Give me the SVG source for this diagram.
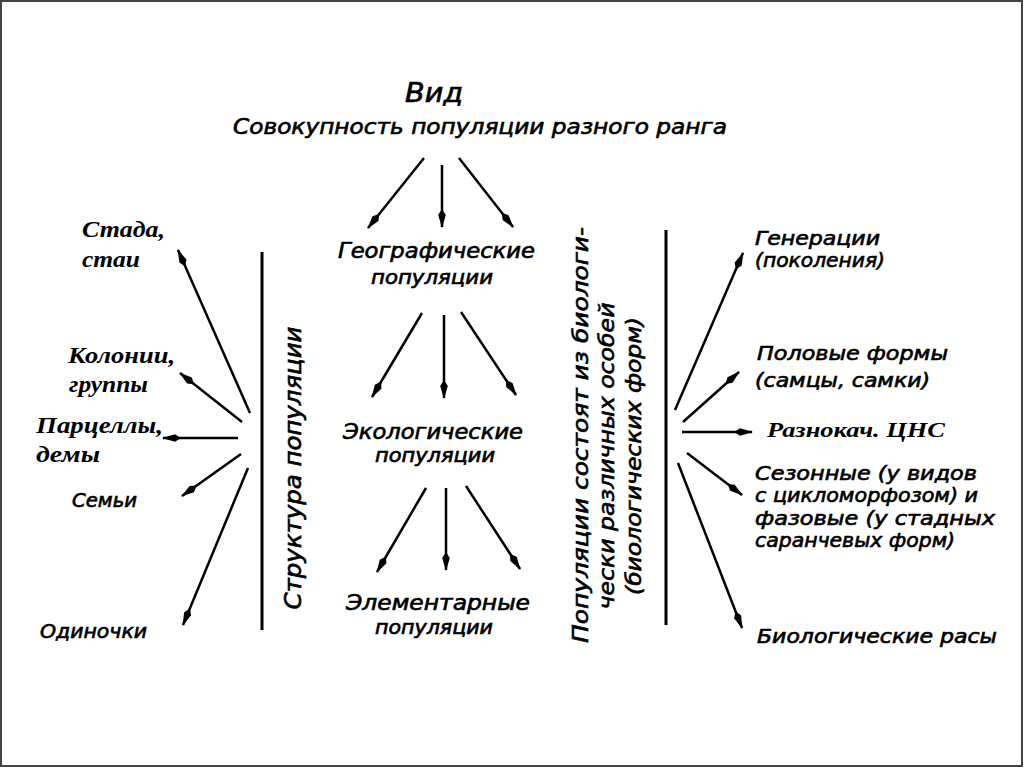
<svg xmlns="http://www.w3.org/2000/svg" width="1024" height="768" viewBox="0 0 1024 768">
<style>
.h{font-family:'DejaVu Sans Condensed','DejaVu Sans',sans-serif;font-style:oblique;fill:#000;stroke:#000;stroke-width:0.6}
.s{font-family:'Liberation Serif','Times New Roman',serif;font-weight:bold;font-style:italic;fill:#000}
.c line{stroke:#000;stroke-width:2.5;marker-end:url(#ah)}
.v{stroke:#000;stroke-width:3}
</style>
<defs>
<marker id="ah" markerUnits="userSpaceOnUse" markerWidth="20" markerHeight="12" refX="18" refY="6" orient="auto">
<path d="M0,6 L6,2.2 L19,6 L6,9.8 z" fill="#000"/>
</marker>
</defs>
<rect x="0" y="0" width="1024" height="768" fill="#fff"/>
<rect x="1" y="1" width="1021" height="765" fill="none" stroke="#444" stroke-width="2"/>

<g id="top">
<text class="h" x="405" y="102" font-size="26" textLength="58" lengthAdjust="spacingAndGlyphs">Вид</text>
<text class="h" x="233" y="134" font-size="22" textLength="494" lengthAdjust="spacingAndGlyphs">Совокупность популяции разного ранга</text>
</g>

<g id="geo">
<text class="h" x="338" y="258" font-size="21" textLength="197" lengthAdjust="spacingAndGlyphs">Географические</text>
<text class="h" x="371" y="284" font-size="20" textLength="122" lengthAdjust="spacingAndGlyphs">популяции</text>
</g>
<g id="eco">
<text class="h" x="343" y="439" font-size="21" textLength="180" lengthAdjust="spacingAndGlyphs">Экологические</text>
<text class="h" x="375" y="462" font-size="19" textLength="120" lengthAdjust="spacingAndGlyphs">популяции</text>
</g>
<g id="elem">
<text class="h" x="346" y="610" font-size="21" textLength="184" lengthAdjust="spacingAndGlyphs">Элементарные</text>
<text class="h" x="375" y="634" font-size="19" textLength="118" lengthAdjust="spacingAndGlyphs">популяции</text>
</g>

<g id="left-labels">
<text class="s" x="82" y="237" font-size="23" textLength="83" lengthAdjust="spacingAndGlyphs">Стада,</text>
<text class="s" x="82" y="267" font-size="23" textLength="58" lengthAdjust="spacingAndGlyphs">стаи</text>
<text class="s" x="68" y="363" font-size="23" textLength="107" lengthAdjust="spacingAndGlyphs">Колонии,</text>
<text class="s" x="69" y="392" font-size="23" textLength="79" lengthAdjust="spacingAndGlyphs">группы</text>
<text class="s" x="36" y="433" font-size="23" textLength="127" lengthAdjust="spacingAndGlyphs">Парцеллы,</text>
<text class="s" x="36" y="462" font-size="23" textLength="64" lengthAdjust="spacingAndGlyphs">демы</text>
<text class="h" x="72" y="507" font-size="20" textLength="65" lengthAdjust="spacingAndGlyphs">Семьи</text>
<text class="h" x="40" y="638" font-size="20" textLength="107" lengthAdjust="spacingAndGlyphs">Одиночки</text>
</g>

<g id="left-bar">
<line class="v" x1="262" y1="252" x2="262" y2="630"/>
<text class="h" x="0" y="0" font-size="23" text-anchor="middle" transform="translate(301,468) rotate(-90)" textLength="283" lengthAdjust="spacingAndGlyphs">Структура популяции</text>
</g>

<g id="right-bar">
<line class="v" x1="666" y1="230" x2="666" y2="625"/>
<text class="h" x="0" y="0" font-size="22" text-anchor="middle" transform="translate(588,435) rotate(-90)" textLength="416" lengthAdjust="spacingAndGlyphs">Популяции состоят из биологи-</text>
<text class="h" x="0" y="0" font-size="22" text-anchor="middle" transform="translate(614,456) rotate(-90)" textLength="307" lengthAdjust="spacingAndGlyphs">чески различных особей</text>
<text class="h" x="0" y="0" font-size="22" text-anchor="middle" transform="translate(641,456) rotate(-90)" textLength="278" lengthAdjust="spacingAndGlyphs">(биологических форм)</text>
</g>

<g id="right-labels">
<text class="h" x="755" y="245" font-size="20" textLength="125" lengthAdjust="spacingAndGlyphs">Генерации</text>
<text class="h" x="755" y="267" font-size="20" textLength="130" lengthAdjust="spacingAndGlyphs">(поколения)</text>
<text class="h" x="757" y="360" font-size="20" textLength="191" lengthAdjust="spacingAndGlyphs">Половые формы</text>
<text class="h" x="755" y="387" font-size="20" textLength="175" lengthAdjust="spacingAndGlyphs">(самцы, самки)</text>
<text class="s" x="767" y="437" font-size="22" textLength="178" lengthAdjust="spacingAndGlyphs">Разнокач. ЦНС</text>
<text class="h" x="755" y="480" font-size="20" textLength="222" lengthAdjust="spacingAndGlyphs">Сезонные (у видов</text>
<text class="h" x="755" y="502" font-size="20" textLength="223" lengthAdjust="spacingAndGlyphs">с цикломорфозом) и</text>
<text class="h" x="755" y="525" font-size="20" textLength="240" lengthAdjust="spacingAndGlyphs">фазовые (у стадных</text>
<text class="h" x="755" y="547" font-size="20" textLength="200" lengthAdjust="spacingAndGlyphs">саранчевых форм)</text>
<text class="h" x="757" y="643" font-size="20" textLength="240" lengthAdjust="spacingAndGlyphs">Биологические расы</text>
</g>

<g id="connectors" class="c">
<line x1="424" y1="158" x2="368" y2="228"/>
<line x1="442" y1="165" x2="442" y2="227"/>
<line x1="459" y1="158" x2="513" y2="227"/>
<line x1="422" y1="313" x2="372" y2="397"/>
<line x1="444" y1="315" x2="444" y2="398"/>
<line x1="461" y1="312" x2="516" y2="395"/>
<line x1="426" y1="488" x2="377" y2="572"/>
<line x1="446" y1="488" x2="446" y2="570"/>
<line x1="466" y1="486" x2="520" y2="569"/>
<line x1="250" y1="413" x2="178" y2="250"/>
<line x1="242" y1="422" x2="180" y2="373"/>
<line x1="238" y1="438" x2="163" y2="438"/>
<line x1="241" y1="454" x2="182" y2="496"/>
<line x1="248" y1="468" x2="183" y2="625"/>
<line x1="675" y1="410" x2="743" y2="253"/>
<line x1="683" y1="422" x2="739" y2="372"/>
<line x1="682" y1="432" x2="752" y2="432"/>
<line x1="687" y1="453" x2="742" y2="495"/>
<line x1="678" y1="463" x2="742" y2="628"/>
</g>
</svg>
